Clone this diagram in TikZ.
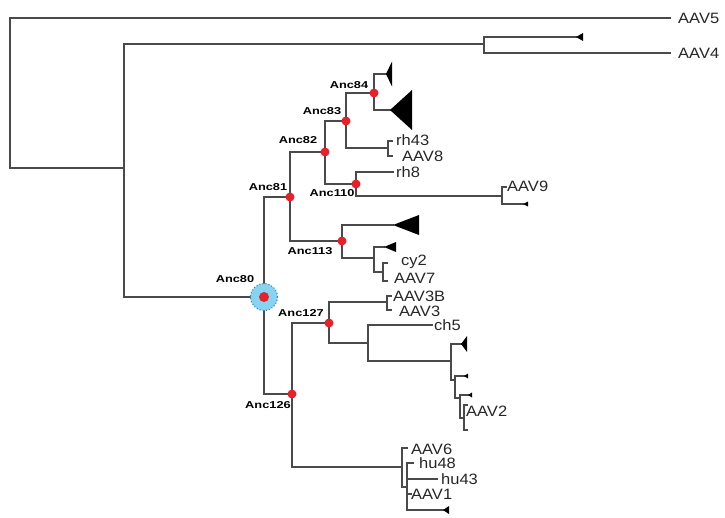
\documentclass[tikz,border=0pt]{standalone}
\usepackage{fontspec}
\newfontfamily\leaffont[FakeStretch=1.1]{Liberation Sans}
\newfontfamily\ancfont[FakeStretch=1.28]{Liberation Sans}
\definecolor{branch}{HTML}{4A4A4A}
\definecolor{dotred}{HTML}{E8202A}
\definecolor{ringblue}{HTML}{86D3F2}
\definecolor{ringedge}{HTML}{3A86C2}
\definecolor{leafcol}{HTML}{262626}
\tikzset{
  br/.style={draw=branch, line width=1.35pt, line cap=rect},
  leaf/.style={anchor=west, inner sep=0pt, text=leafcol, font=\leaffont\fontsize{15}{15}\selectfont},
  anc/.style={inner sep=0pt, text=black, font=\ancfont\bfseries\fontsize{10}{10}\selectfont},
  reddot/.style={circle, fill=dotred, minimum size=9pt, inner sep=0pt},
  tri/.style={fill=black},
}
\newcommand\cladetri[3]{\fill[tri] (#1) -- ++(#2,{-#3/2}) -- ++(0,#3) -- cycle;}
\begin{document}
\begin{tikzpicture}[x=1pt,y=-1pt]
\useasboundingbox (0,0) rectangle (725,517);
% internal nodes and tips
\coordinate (root) at (10,93);
\coordinate (aav5e) at (670,18);
\coordinate (r1) at (124,168);
\coordinate (a4) at (484,44);
\coordinate (t4) at (576,37);
\coordinate (aav4e) at (670,53);
\coordinate (anc80) at (264,297);
\coordinate (anc81) at (290,197);
\coordinate (anc82) at (325,152);
\coordinate (anc83) at (346,121);
\coordinate (anc84) at (374,93);
\coordinate (t84a) at (386,74);
\coordinate (t84b) at (390,110);
\coordinate (n8) at (388,148);
\coordinate (rh43e) at (392,141);
\coordinate (aav8e) at (392,156);
\coordinate (anc110) at (356,184);
\coordinate (rh8e) at (393,172);
\coordinate (n9) at (502,196);
\coordinate (aav9e) at (506,187);
\coordinate (t9) at (523,204);
\coordinate (anc113) at (342,241);
\coordinate (t113) at (393,225);
\coordinate (n7) at (374,258);
\coordinate (t7) at (384,247);
\coordinate (n7b) at (383,272);
\coordinate (cy2e) at (387,263);
\coordinate (aav7e) at (387,281);
\coordinate (anc126) at (292,394);
\coordinate (anc127) at (329,323);
\coordinate (n3) at (387,302);
\coordinate (aav3be) at (391,296);
\coordinate (aav3e) at (391,310);
\coordinate (n5) at (368,343);
\coordinate (ch5e) at (432,325);
\coordinate (n2a) at (451,361);
\coordinate (t2a) at (461,344);
\coordinate (n2b) at (455,380);
\coordinate (t2b) at (464,376);
\coordinate (n2c) at (460,398);
\coordinate (t2c) at (468,395);
\coordinate (n2d) at (464,418);
\coordinate (aav2a) at (467,405);
\coordinate (aav2b) at (467,430);
\coordinate (n1) at (402,467);
\coordinate (aav6e) at (407,448);
\coordinate (nb) at (407,487);
\coordinate (hu48e) at (413,463);
\coordinate (hu43e) at (437,479);
\coordinate (aav1e) at (411,494);
\coordinate (t1) at (443,510);

% branches
\draw[br] (root) |- (aav5e);
\draw[br] (root) |- (r1);
\draw[br] (r1) |- (a4);
\draw[br] (r1) |- (anc80);
\draw[br] (a4) |- (t4);
\draw[br] (a4) |- (aav4e);
\draw[br] (anc80) |- (anc81);
\draw[br] (anc80) |- (anc126);
\draw[br] (anc81) |- (anc82);
\draw[br] (anc81) |- (anc113);
\draw[br] (anc82) |- (anc83);
\draw[br] (anc82) |- (anc110);
\draw[br] (anc83) |- (anc84);
\draw[br] (anc83) |- (n8);
\draw[br] (anc84) |- (t84a);
\draw[br] (anc84) |- (t84b);
\draw[br] (n8) |- (rh43e);
\draw[br] (n8) |- (aav8e);
\draw[br] (anc110) |- (rh8e);
\draw[br] (anc110) |- (n9);
\draw[br] (n9) |- (aav9e);
\draw[br] (n9) |- (t9);
\draw[br] (anc113) |- (t113);
\draw[br] (anc113) |- (n7);
\draw[br] (n7) |- (t7);
\draw[br] (n7) |- (n7b);
\draw[br] (n7b) |- (cy2e);
\draw[br] (n7b) |- (aav7e);
\draw[br] (anc126) |- (anc127);
\draw[br] (anc126) |- (n1);
\draw[br] (anc127) |- (n3);
\draw[br] (anc127) |- (n5);
\draw[br] (n3) |- (aav3be);
\draw[br] (n3) |- (aav3e);
\draw[br] (n5) |- (ch5e);
\draw[br] (n5) |- (n2a);
\draw[br] (n2a) |- (t2a);
\draw[br] (n2a) |- (n2b);
\draw[br] (n2b) |- (t2b);
\draw[br] (n2b) |- (n2c);
\draw[br] (n2c) |- (t2c);
\draw[br] (n2c) |- (n2d);
\draw[br] (n2d) |- (aav2a);
\draw[br] (n2d) |- (aav2b);
\draw[br] (n1) |- (aav6e);
\draw[br] (n1) |- (nb);
\draw[br] (nb) |- (hu48e);
\draw[br] (nb) |- (hu43e);
\draw[br] (nb) |- (aav1e);
\draw[br] (nb) |- (t1);

% collapsed clades
\cladetri{t4}{7}{8}
\cladetri{t84a}{6}{25}
\cladetri{t84b}{22}{40}
\cladetri{t9}{5}{5}
\cladetri{t113}{26}{20}
\cladetri{t7}{12}{10}
\cladetri{t2a}{6}{16}
\cladetri{t2b}{4}{5}
\cladetri{t2c}{4}{5}
\cladetri{t1}{6}{8}

% ancestral nodes
\node[circle, fill=ringblue, draw=ringedge, dotted, line width=1.1pt, minimum size=27pt, inner sep=0pt] (ring80) at (anc80) {};
\node[reddot, minimum size=10pt] (dot80) at (anc80) {};
\foreach \a in {anc81,anc82,anc83,anc84,anc110,anc113,anc126,anc127}
  \node[reddot] (dot-\a) at (\a) {};

% ancestral labels
\node[anc] (l80) at (235,279) {Anc80};
\node[anc] (l81) at (268,187) {Anc81};
\node[anc] (l82) at (298,140) {Anc82};
\node[anc] (l83) at (322,111) {Anc83};
\node[anc] (l84) at (349,85) {Anc84};
\node[anc] (l110) at (332,193) {Anc110};
\node[anc] (l113) at (310,251) {Anc113};
\node[anc] (l127) at (301,313) {Anc127};
\node[anc] (l126) at (268,405) {Anc126};

% leaf labels
\node[leaf] (AAV5) at (678,18) {AAV5};
\node[leaf] (AAV4) at (678,53) {AAV4};
\node[leaf] (rh43) at (396,140) {rh43};
\node[leaf] (AAV8) at (402,156) {AAV8};
\node[leaf] (rh8) at (396,172) {rh8};
\node[leaf] (AAV9) at (507,186) {AAV9};
\node[leaf] (cy2) at (401,262) {cy2};
\node[leaf] (AAV7) at (394,278) {AAV7};
\node[leaf] (AAV3B) at (393,296) {AAV3B};
\node[leaf] (AAV3) at (399,311) {AAV3};
\node[leaf] (ch5) at (434,325) {ch5};
\node[leaf] (AAV2) at (466,411) {AAV2};
\node[leaf] (AAV6) at (411,449) {AAV6};
\node[leaf] (hu48) at (419,463) {hu48};
\node[leaf] (hu43) at (441,479) {hu43};
\node[leaf] (AAV1) at (411,494) {AAV1};
\end{tikzpicture}
\end{document}
